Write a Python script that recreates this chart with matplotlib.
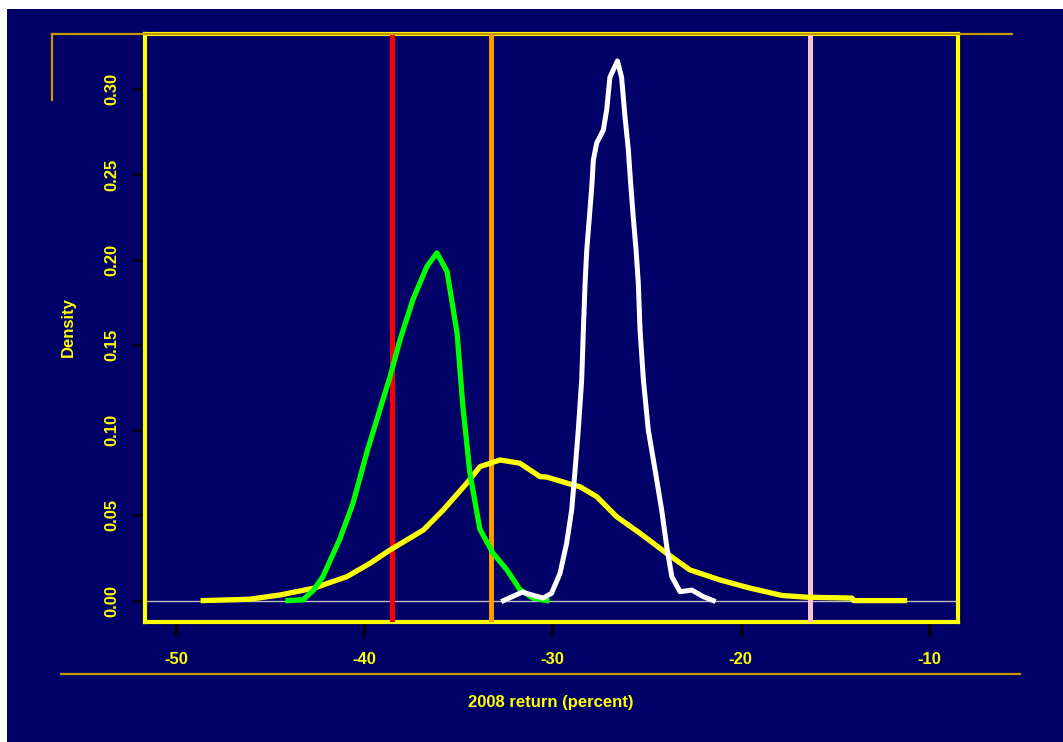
import matplotlib
matplotlib.use("Agg")
import matplotlib.pyplot as plt
from matplotlib.lines import Line2D
from matplotlib.patches import Rectangle

# density estimates
yellow_x = [-48.55, -46.1, -44.48, -42.71, -40.93, -39.69, -38.63, -36.86, -35.80, -34.56,
            -33.85, -32.79, -31.73, -30.66, -30.31, -28.89, -28.54, -27.65, -26.59, -25.35,
            -23.93, -22.70, -21.1, -19.5, -17.8, -16.5, -14.1, -14.0, -11.3]
yellow_y = [0.0, 0.0008, 0.0033, 0.0072, 0.014, 0.0219, 0.0297, 0.0414, 0.0532, 0.0688,
            0.0786, 0.0825, 0.0806, 0.0727, 0.0725, 0.0678, 0.0668, 0.061, 0.0492, 0.0395,
            0.0277, 0.018, 0.0121, 0.0073, 0.003, 0.002, 0.0015, 0.0, 0.0]

green_x = [-44.05, -43.25, -42.7, -42.2, -41.3, -40.6, -39.86, -39.17, -38.64, -38.1,
           -37.4, -36.67, -36.14, -35.6, -35.07, -34.76, -34.39, -33.86, -33.17, -32.42,
           -31.73, -31.04, -30.3]
green_y = [0.0, 0.0005, 0.006, 0.014, 0.036, 0.057, 0.087, 0.112, 0.131, 0.153,
           0.177, 0.196, 0.204, 0.193, 0.157, 0.114, 0.075, 0.042, 0.028, 0.018,
           0.0065, 0.0015, 0.0]

white_x = [-32.6, -31.6, -31.0, -30.49, -30.05, -29.6, -29.25, -28.98, -28.80, -28.63,
           -28.45, -28.36, -28.27, -28.18, -28.04, -27.9, -27.83, -27.65, -27.30, -27.12,
           -26.95, -26.55, -26.33, -26.15, -25.97, -25.85, -25.71, -25.56, -25.44, -25.35,
           -25.17, -24.91, -24.55, -24.20, -23.93, -23.66, -23.22, -22.6, -21.99, -21.46]
white_y = [0.0, 0.005, 0.003, 0.0015, 0.0043, 0.016, 0.0336, 0.0532, 0.0766, 0.100,
           0.1294, 0.1588, 0.186, 0.2057, 0.225, 0.245, 0.2585, 0.2685, 0.276, 0.288,
           0.307, 0.3166, 0.307, 0.284, 0.2644, 0.245, 0.225, 0.2057, 0.186, 0.1588,
           0.1294, 0.100, 0.0766, 0.0532, 0.0316, 0.014, 0.0052, 0.0062, 0.0023, 0.0]

# reference returns (vertical lines)
vline_x = [-38.50, -33.29, -16.32]
vline_colors = ["#ff0000", "#ff9900", "#ffc0cb"]

x_ticks = [-50, -40, -30, -20, -10]
y_ticks = [0.00, 0.05, 0.10, 0.15, 0.20, 0.25, 0.30]

navy = "#000066"
gold = "#c89600"
W, H = 1063, 742

fig = plt.figure(figsize=(W / 100, H / 100), dpi=100, facecolor="white")
fig.add_artist(Rectangle((7 / W, 0), 1 - 7 / W, (H - 9) / H, transform=fig.transFigure,
                         facecolor=navy, edgecolor="none", zorder=0))

# decorative frame lines
fig.add_artist(Line2D([52 / W, 1012 / W], [1 - 34 / H, 1 - 34 / H], color=gold, lw=1.6))
fig.add_artist(Line2D([52 / W, 52 / W], [1 - 34 / H, 1 - 100 / H], color=gold, lw=1.6))
fig.add_artist(Line2D([61 / W, 1020 / W], [1 - 674 / H, 1 - 674 / H], color=gold, lw=1.6))

ax = fig.add_axes([144.5 / W, 1 - 621.5 / H, (958 - 144.5) / W, (621.5 - 33.5) / H])
ax.set_facecolor(navy)
ax.set_xlim(-51.673, -8.459)
ax.set_ylim(-0.01226, 0.3327)

ax.axhline(0, color="#bebebe", lw=1, zorder=1)
for xv, c in zip(vline_x, vline_colors):
    ax.axvline(xv, color=c, lw=3.6, zorder=2.6)

ax.plot(yellow_x, yellow_y, color="#ffff00", lw=3.8, zorder=3, solid_joinstyle="round")
ax.plot(green_x, green_y, color="#00ff00", lw=3.8, zorder=3.1, solid_joinstyle="round")
ax.plot(white_x, white_y, color="#ffffff", lw=3.6, zorder=3.2, solid_joinstyle="round")

for s in ax.spines.values():
    s.set_color("#ffff00")
    s.set_linewidth(3)

font = {"family": ["Liberation Sans", "DejaVu Sans"], "weight": "bold", "size": 12}

ax.set_xticks(x_ticks)
ax.set_yticks(y_ticks)
ax.set_xticklabels([str(t) for t in x_ticks], fontdict=font, color="#ffff00")
ax.set_yticklabels(["%.2f" % t for t in y_ticks], fontdict=font, color="#ffff00",
                   rotation=90, va="center")
ax.tick_params(axis="x", colors="black", length=10, width=2.4, pad=12, labelcolor="#ffff00")
ax.tick_params(axis="y", colors="black", length=8, width=2, pad=10, labelcolor="#ffff00")

ax.set_xlabel("2008 return (percent)", fontdict=font, color="#ffff00")
ax.set_ylabel("Density", fontdict=font, color="#ffff00")
ax.xaxis.set_label_coords(0.5, (621.5 - 695) / 588)
ax.yaxis.set_label_coords((76 - 144.5) / 813.5, 0.5)

fig.savefig("out.png", dpi=100, facecolor=fig.get_facecolor())
